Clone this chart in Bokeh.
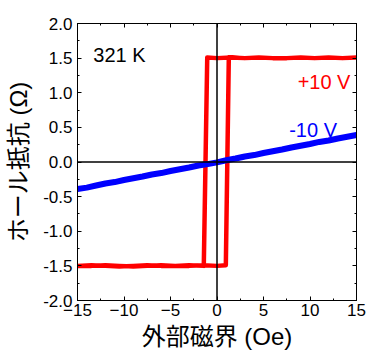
from bokeh.plotting import figure
from bokeh.models import LinearAxis, SingleIntervalTicker, PrintfTickFormatter, Span, Label
from bokeh.embed import file_html
from bokeh.resources import INLINE

# ---- data ----
# +10 V loop (red): traced as one sweep 15 -> -15 -> 15
red_x = [15, 13.5, 12, 10.5, 9, 7.5, 6, 4.5, 3, 1.5, 0, -1.05,
         -1.42, -3, -4.5, -6, -7.5, -9, -10.5, -12, -13.5, -15,
         -13.5, -12, -10.5, -9, -7.5, -6, -4.5, -3, -1.5, 0, 0.95,
         1.27, 3, 4.5, 6, 7.5, 9, 10.5, 12, 13.5, 15]
red_y = [1.51, 1.50, 1.51, 1.50, 1.51, 1.50, 1.50, 1.51, 1.50, 1.51, 1.50, 1.51,
         -1.50, -1.49, -1.50, -1.50, -1.49, -1.50, -1.51, -1.50, -1.49, -1.50,
         -1.50, -1.49, -1.50, -1.51, -1.50, -1.49, -1.50, -1.50, -1.49, -1.50, -1.49,
         1.51, 1.50, 1.51, 1.50, 1.50, 1.51, 1.50, 1.51, 1.50, 1.51]

# -10 V (blue): nearly linear
blue_x = [-15, -14, -13, -12, -11, -10, -9, -8, -7, -6, -5, -4, -3, -2, -1, 0,
          1, 2, 3, 4, 5, 6, 7, 8, 9, 10, 11, 12, 13, 14, 15]
blue_y = [-0.39, -0.37, -0.34, -0.31, -0.29, -0.26, -0.235, -0.21, -0.18, -0.16,
          -0.13, -0.105, -0.08, -0.05, -0.03, -0.005, 0.025, 0.05, 0.08, 0.10,
          0.13, 0.155, 0.18, 0.21, 0.235, 0.26, 0.29, 0.31, 0.34, 0.365, 0.39]

x_label = "外部磁界 (Oe)"
y_label = "ホール抵抗 (Ω)"
temp_text = "321 K"
red_text = "+10 V"
blue_text = "-10 V"

LATIN = "'Liberation Sans', Arial, sans-serif"
MIXED = "'Liberation Sans', 'Noto Sans CJK JP', sans-serif"

p = figure(width=366, height=352, x_range=(-15, 15), y_range=(-2, 2),
           output_backend="svg", toolbar_location=None,
           x_axis_location=None, y_axis_location=None,
           min_border_left=77, min_border_right=10,
           min_border_top=23, min_border_bottom=51)
p.xgrid.visible = False
p.ygrid.visible = False
p.outline_line_color = "black"
p.outline_line_width = 1
p.background_fill_color = "white"
p.border_fill_color = "white"

def style(ax, show_labels):
    ax.axis_line_color = "black"
    ax.axis_line_width = 1
    ax.major_tick_in = 4
    ax.major_tick_out = 0
    ax.minor_tick_in = 2
    ax.minor_tick_out = 0
    ax.major_tick_line_color = "black"
    ax.minor_tick_line_color = "black"
    if show_labels:
        ax.major_label_text_font = LATIN
        ax.major_label_text_font_size = "17px"
        ax.major_label_text_color = "black"
    else:
        ax.major_label_text_font_size = "1px"
        ax.major_label_text_color = None
        ax.major_label_standoff = 0

xb = LinearAxis(ticker=SingleIntervalTicker(interval=5, num_minor_ticks=2))
style(xb, True)
xb.major_label_standoff = 3
xb.axis_label = x_label
xb.axis_label_text_font = MIXED
xb.axis_label_text_font_size = "24px"
xb.axis_label_text_font_style = "normal"
xb.axis_label_text_color = "black"
xb.axis_label_standoff = 4
p.add_layout(xb, "below")

xt = LinearAxis(ticker=SingleIntervalTicker(interval=5, num_minor_ticks=2))
style(xt, False)
p.add_layout(xt, "above")

yl = LinearAxis(ticker=SingleIntervalTicker(interval=0.5, num_minor_ticks=2),
                formatter=PrintfTickFormatter(format="%.1f"))
style(yl, True)
yl.major_label_standoff = 5
yl.axis_label = y_label
yl.axis_label_text_font = MIXED
yl.axis_label_text_font_size = "24px"
yl.axis_label_text_font_style = "normal"
yl.axis_label_text_color = "black"
yl.axis_label_standoff = 8
p.add_layout(yl, "left")

yr = LinearAxis(ticker=SingleIntervalTicker(interval=0.5, num_minor_ticks=2))
style(yr, False)
p.add_layout(yr, "right")

p.add_layout(Span(location=0, dimension="height", line_color="black", line_width=1.5))
p.add_layout(Span(location=0, dimension="width", line_color="black", line_width=1.5))

p.line(red_x, red_y, line_color="#ff0000", line_width=4.5, line_join="round")
p.line(blue_x, blue_y, line_color="#0000ff", line_width=6, line_join="round")

p.add_layout(Label(x=-13.3, y=1.54, text=temp_text, text_font=LATIN,
                   text_font_size="20px", text_color="black",
                   text_baseline="alphabetic", text_align="left"))
p.add_layout(Label(x=14.35, y=1.155, text=red_text, text_font=LATIN,
                   text_font_size="20px", text_color="#ff0000",
                   text_baseline="alphabetic", text_align="right"))
p.add_layout(Label(x=12.9, y=0.46, text=blue_text, text_font=LATIN,
                   text_font_size="20px", text_color="#0000ff",
                   text_baseline="alphabetic", text_align="right"))

open("out.html", "w").write(file_html(p, INLINE))
